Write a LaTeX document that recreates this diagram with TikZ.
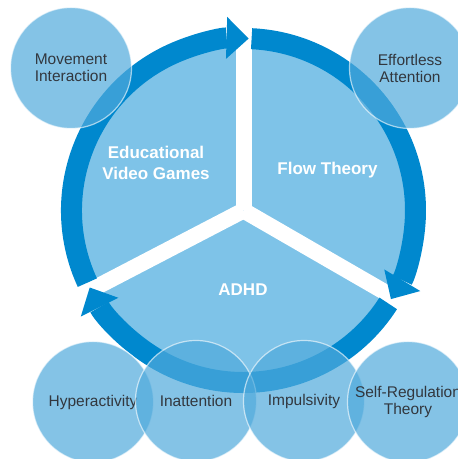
\documentclass[tikz,border=0pt]{standalone}
\usepackage{fontspec}
\setmainfont{Liberation Sans}
\usetikzlibrary{arrows.meta}

\definecolor{ringblue}{RGB}{0,136,206}
\definecolor{pieblue}{RGB}{126,195,232}
\definecolor{dotblue}{RGB}{80,170,220}
\definecolor{labelgray}{RGB}{50,55,62}

\begin{document}
\begin{tikzpicture}[x=1pt, y=1pt,
  ring/.style={line width=21pt, ringblue, -{Triangle[width=42pt, length=22pt, line width=0pt]}},
  gapline/.style={line width=16pt, white},
  topic/.style={text=white, font=\fontsize{17}{21}\selectfont\bfseries, align=center},
  aspect/.style={circle, minimum size=121pt, inner sep=0pt, fill=dotblue, fill opacity=0.7,
    draw=white, draw opacity=0.6, line width=1.2pt, text=labelgray, text opacity=1,
    font=\fontsize{15.5}{17}\selectfont, align=center}]
  \useasboundingbox (0,0) rectangle (458,459);
  \coordinate (o) at (243.5,248.5);

  % Pie and the three white gaps between its slices
  \fill[pieblue] (o) circle[radius=172];
  \foreach \a in {90,-30,207.5}
    \draw[gapline] (o) -- ++(\a:186);

  % Cycle arrows round the pie
  \draw[ring] (o) ++(204.8:172) arc[start angle=204.8, end angle=88.3, radius=172];
  \draw[ring] (o) ++(87.3:172) arc[start angle=87.3, end angle=-31, radius=172];
  \draw[ring] (o) ++(-32.7:172) arc[start angle=-32.7, end angle=-153.4, radius=172];

  % Slice labels
  \node[topic] (games) at (156,296) {Educational\\Video Games};
  \node[topic] (flow) at (327.5,289) {Flow Theory};
  \node[topic] (adhd) at (243,169) {ADHD};

  % Surrounding circles
  \node[aspect] (movement) at (71,391) {Movement\\Interaction};
  \node[aspect] (effortless) at (410,391) {Effortless\\Attention};
  \node[aspect] (hyper) at (93,57) {Hyperactivity};
  \node[aspect] (inatt) at (196,58) {Inattention};
  \node[aspect] (impuls) at (304,58) {Impulsivity};
  \node[aspect] (selfreg) at (408,57) {Self-Regulation\\Theory};
\end{tikzpicture}
\end{document}
